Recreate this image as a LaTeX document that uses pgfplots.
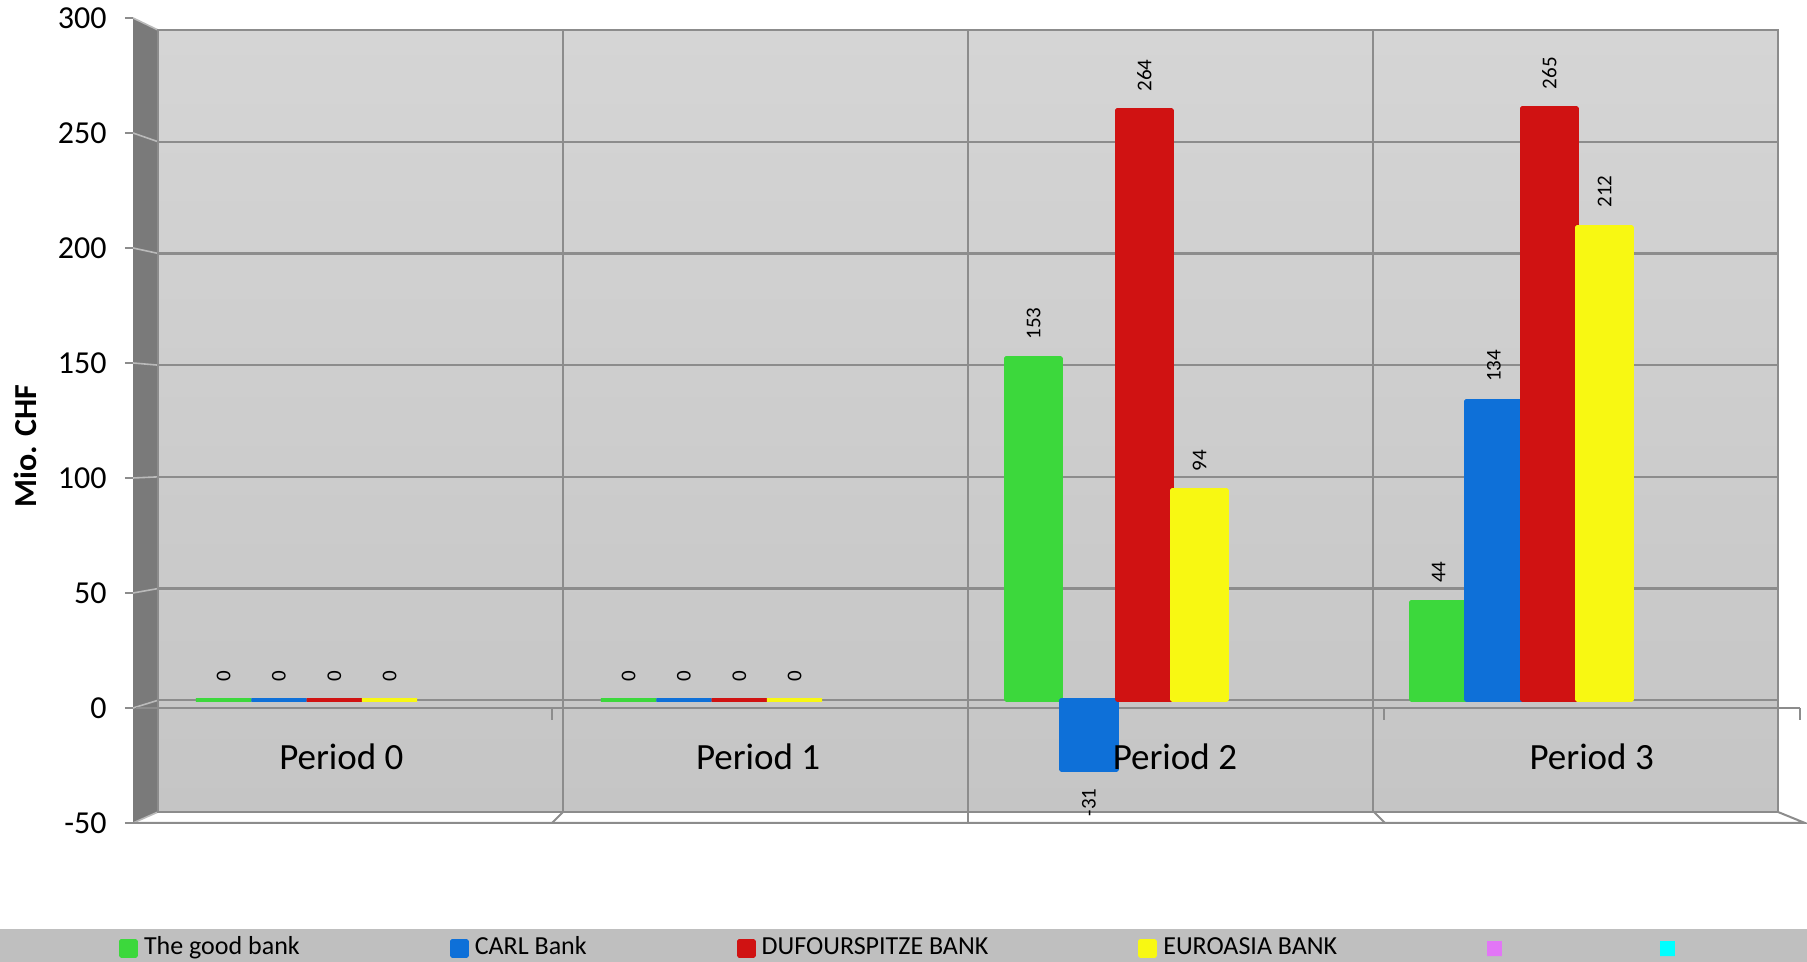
\documentclass[border=0pt]{standalone}
\usepackage{fontspec}
\setmainfont{Carlito}
\usepackage{pgfplots}
\pgfplotsset{compat=1.18}
\definecolor{cGreen}{RGB}{60,216,60}
\definecolor{cBlue}{RGB}{14,112,216}
\definecolor{cRed}{RGB}{208,18,18}
\definecolor{cYellow}{RGB}{248,248,18}
\definecolor{lPink}{RGB}{226,118,246}
\definecolor{lCyan}{RGB}{0,255,255}
\definecolor{gridc}{RGB}{140,140,140}
\definecolor{sidewall}{RGB}{122,122,122}
\definecolor{legbg}{RGB}{191,191,191}
\definecolor{wallTop}{RGB}{213,213,213}
\definecolor{wallBot}{RGB}{197,197,197}
\newcommand{\lt}[1]{\raisebox{0pt}[0pt][0pt]{#1}}
\begin{document}
\begin{tikzpicture}
\useasboundingbox (0,0) rectangle (903.5pt,481pt);
\fill[legbg] (0,0) rectangle (903.5pt,16.5pt);
% side wall
\fill[sidewall] (66.5pt,472pt) -- (79pt,466pt) -- (79pt,75pt) -- (66.5pt,69.5pt) -- cycle;
\foreach \yf/\yb in {69.5/75,127/130.857,184.5/186.714,242/242.571,299.5/298.43,357/354.29,414.5/410.14,472/466}
  \draw[gridc!60!white, line width=0.8pt] (66.5pt,\yf pt) -- (79pt,\yb pt);
% floor lines
\draw[gridc, line width=1pt] (66.5pt,69.5pt) -- (902.5pt,69.5pt) -- (889pt,75pt);
\draw[gridc, line width=1pt] (281.5pt,75pt) -- (276pt,69.5pt);
\draw[gridc, line width=1pt] (484pt,75pt) -- (484pt,69.5pt);
\draw[gridc, line width=1pt] (687pt,75pt) -- (692.5pt,69.5pt);

\begin{axis}[
  at={(79pt,75pt)}, anchor=south west, scale only axis,
  width=810pt, height=391pt,
  xmin=-0.5, xmax=3.5, ymin=-50, ymax=300,
  ytick={-50,0,...,300}, yticklabels={},
  xtick={0.5,1.5,2.5}, xticklabels={},
  major tick length=0pt,
  grid=major, grid style={gridc, line width=1.2pt},
  axis line style={gridc, line width=1.2pt},
  axis background/.style={top color=wallTop, bottom color=wallBot},
  clip=false,
  ybar, bar width=0.1365,
  /pgf/number format/assume math mode=true,
  nodes near coords,
  visualization depends on={rawy \as \rawy},
  every node near coord/.append style={font=\fontsize{10.5}{12}\selectfont, text=black,
     rotate=90, inner xsep=8.5pt, inner ysep=0pt,
     anchor={\ifdim\rawy pt<0pt east\else west\fi}},
  legend columns=-1,
  legend image code/.code={\fill[#1, overlay] (0pt,0pt) rectangle (7.5pt,7.5pt);
     \path (0pt,0pt) rectangle (7.5pt,0pt);},
  legend style={at={(-0.02407,-0.18414)}, anchor=west, draw=none, fill=none,
     inner sep=0pt, outer sep=0pt, font=\fontsize{13}{15}\selectfont,
     nodes={inner sep=0pt},
     /tikz/every odd column/.append style={column sep=3pt},
     /tikz/every even column/.append style={column sep=75pt}},
]
\draw[gridc, line width=1.2pt] (axis cs:-0.554,-3.45) -- (axis cs:3.554,-3.45);
\draw[gridc, line width=1.2pt] (axis cs:0.473,-3.45) -- (axis cs:0.473,-8.82);
\draw[gridc, line width=1.2pt] (axis cs:1.5,-3.45) -- (axis cs:1.5,-8.82);
\draw[gridc, line width=1.2pt] (axis cs:2.527,-3.45) -- (axis cs:2.527,-8.82);
\draw[gridc, line width=1.2pt] (axis cs:3.554,-3.45) -- (axis cs:3.554,-8.82);
\addplot[bar shift=-0.338, fill=cGreen, draw=cGreen, line width=2pt, line join=bevel]
  coordinates {(0,0) (1,0) (2,153) (3,44)};
\addlegendentry{\lt{The good bank}}
\addplot[bar shift=-0.2013, fill=cBlue, draw=cBlue, line width=2pt, line join=bevel]
  coordinates {(0,0) (1,0) (2,-31) (3,134)};
\addlegendentry{\lt{CARL Bank}}
\addplot[bar shift=-0.0648, fill=cRed, draw=cRed, line width=2pt, line join=bevel]
  coordinates {(0,0) (1,0) (2,264) (3,265)};
\addlegendentry{\lt{DUFOURSPITZE BANK}}
\addplot[bar shift=0.0718, fill=cYellow, draw=cYellow, line width=2pt, line join=bevel]
  coordinates {(0,0) (1,0) (2,94) (3,212)};
\addlegendentry{\lt{EUROASIA BANK}}
\addlegendimage{fill=lPink, draw=none}
\addlegendentry{\lt{\mbox{}}}
\addlegendimage{fill=lCyan, draw=none}
\addlegendentry{\lt{\mbox{}}}
\end{axis}

\begin{axis}[
  at={(66.5pt,69.5pt)}, anchor=south west, scale only axis,
  width=833.5pt, height=402.5pt,
  xmin=-0.5, xmax=3.5, ymin=-50, ymax=300,
  axis y line*=left, axis x line*=bottom, axis line style={draw=none},
  ytick={-50,0,...,300},
  xtick={0,1,2,3}, xticklabels={Period 0,Period 1,Period 2,Period 3},
  xtick style={draw=none}, ytick style={gridc, line width=1pt},
  tick align=outside, major tick length=4pt,
  /pgf/number format/assume math mode=true,
  yticklabel style={font=\fontsize{16}{19}\selectfont, xshift=-5.7pt},
  xticklabel style={font=\fontsize{18.5}{22}\selectfont, anchor=center, yshift=37pt},
  ylabel={Mio. CHF},
  ylabel style={at={(axis description cs:-0.0576,0.468)}, anchor=south, inner sep=0pt,
     font=\bfseries\fontsize{16}{19}\selectfont},
]
\end{axis}
\end{tikzpicture}
\end{document}
